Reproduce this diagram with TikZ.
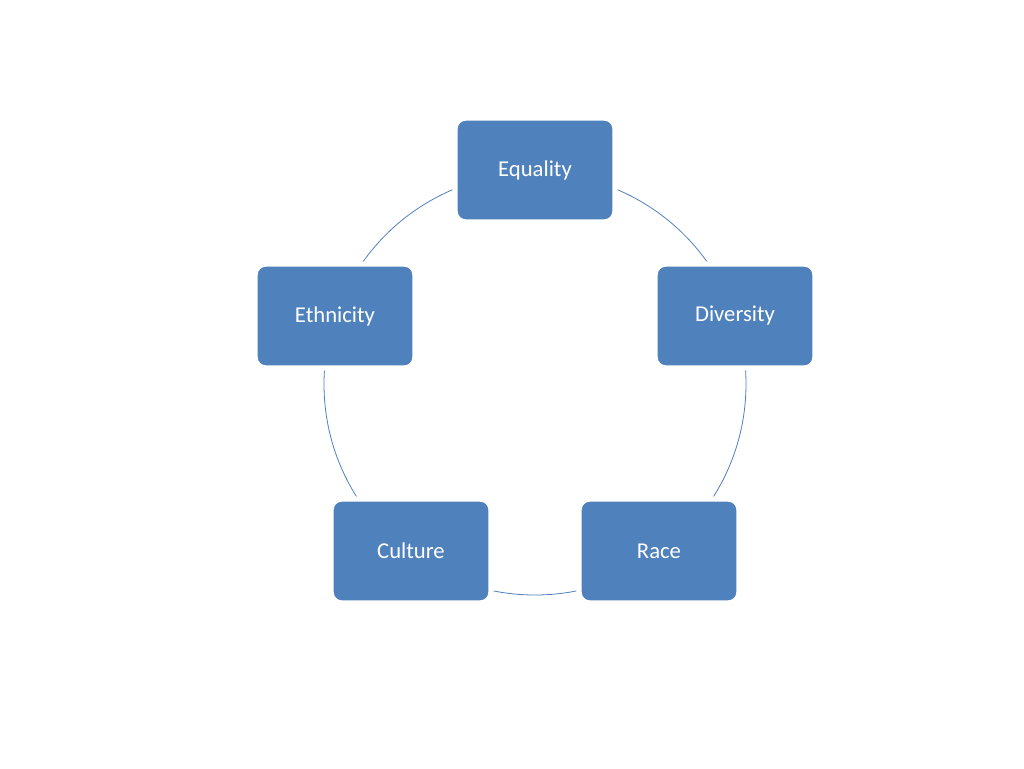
\documentclass[tikz,border=0pt]{standalone}
\usepackage{fontspec}
\setmainfont{Carlito}
\definecolor{accblue}{RGB}{79,129,189}
\begin{document}
\begin{tikzpicture}[x=0.75pt,y=-0.75pt,
  box/.style={fill=accblue, draw=white, line width=4pt, rounded corners=8pt,
    minimum width=120pt, minimum height=78pt, text=white, font=\fontsize{17}{20}\selectfont}]
\useasboundingbox[fill=white] (0,0) rectangle (1024,768);
\draw[accblue, line width=0.6pt] (535,384) circle[radius=211];
\node[box] (eq) at (535,170) {Equality};
\node[box] (di) at (735,316) {Diversity};
\node[box] (ra) at (659,551) {Race};
\node[box] (cu) at (411,551) {Culture};
\node[box] (et) at (335,316) {Ethnicity};
\end{tikzpicture}
\end{document}
